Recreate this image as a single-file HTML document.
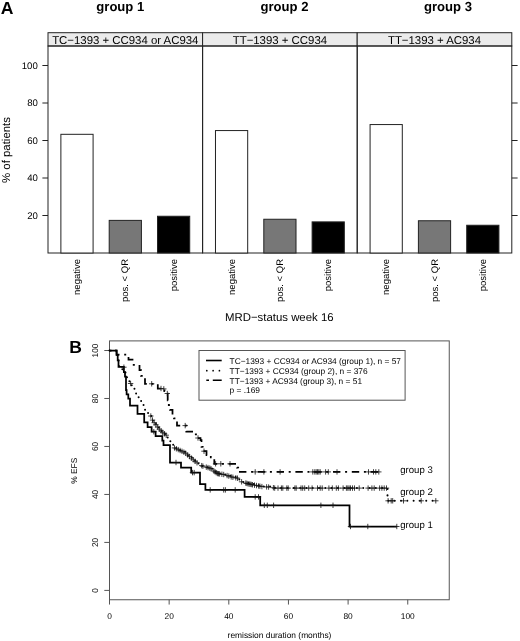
<!DOCTYPE html>
<html lang="en"><head><meta charset="utf-8"><title>Figure</title>
<style>html,body{margin:0;padding:0;background:#fff}body{width:520px;height:641px;overflow:hidden}svg{display:block}</style>
</head><body>
<svg width="520" height="641" viewBox="0 0 520 641" font-family='"Liberation Sans", sans-serif' text-rendering="geometricPrecision">
<rect width="520" height="641" fill="#fff"/>
<text x="0.8" y="14" font-size="17.6" font-weight="bold" fill="#000">A</text>
<text x="120.3" y="11.2" font-size="13.1" font-weight="bold" text-anchor="middle" fill="#000">group 1</text>
<text x="284.5" y="11.2" font-size="13.1" font-weight="bold" text-anchor="middle" fill="#000">group 2</text>
<text x="448" y="11.2" font-size="13.1" font-weight="bold" text-anchor="middle" fill="#000">group 3</text>
<rect x="48.00" y="32.7" width="154.60" height="13.30" fill="#ebebeb" stroke="#222" stroke-width="1"/>
<rect x="48.00" y="46.0" width="154.60" height="207.00" fill="none" stroke="#222" stroke-width="1"/>
<text x="125.30" y="44" font-size="11.4" text-anchor="middle" fill="#000">TC−1393 + CC934 or AC934</text>
<rect x="60.88" y="134.31" width="32.21" height="118.69" fill="#fff" stroke="#222" stroke-width="1"/>
<text transform="translate(79.99,259) rotate(-90)" font-size="9.5" text-anchor="end" fill="#000">negative</text>
<rect x="109.20" y="220.38" width="32.21" height="32.62" fill="#777" stroke="#222" stroke-width="1"/>
<text transform="translate(128.30,259) rotate(-90)" font-size="9.5" text-anchor="end" fill="#000">pos. &lt; QR</text>
<rect x="157.51" y="216.25" width="32.21" height="36.75" fill="#000" stroke="#222" stroke-width="1"/>
<text transform="translate(176.61,259) rotate(-90)" font-size="9.5" text-anchor="end" fill="#000">positive</text>
<rect x="202.60" y="32.7" width="154.60" height="13.30" fill="#ebebeb" stroke="#222" stroke-width="1"/>
<rect x="202.60" y="46.0" width="154.60" height="207.00" fill="none" stroke="#222" stroke-width="1"/>
<text x="279.90" y="44" font-size="11.4" text-anchor="middle" fill="#000">TT−1393 + CC934</text>
<rect x="215.48" y="130.56" width="32.21" height="122.44" fill="#fff" stroke="#222" stroke-width="1"/>
<text transform="translate(234.59,259) rotate(-90)" font-size="9.5" text-anchor="end" fill="#000">negative</text>
<rect x="263.80" y="219.25" width="32.21" height="33.75" fill="#777" stroke="#222" stroke-width="1"/>
<text transform="translate(282.90,259) rotate(-90)" font-size="9.5" text-anchor="end" fill="#000">pos. &lt; QR</text>
<rect x="312.11" y="221.88" width="32.21" height="31.12" fill="#000" stroke="#222" stroke-width="1"/>
<text transform="translate(331.21,259) rotate(-90)" font-size="9.5" text-anchor="end" fill="#000">positive</text>
<rect x="357.20" y="32.7" width="154.60" height="13.30" fill="#ebebeb" stroke="#222" stroke-width="1"/>
<rect x="357.20" y="46.0" width="154.60" height="207.00" fill="none" stroke="#222" stroke-width="1"/>
<text x="434.50" y="44" font-size="11.4" text-anchor="middle" fill="#000">TT−1393 + AC934</text>
<rect x="370.08" y="124.56" width="32.21" height="128.44" fill="#fff" stroke="#222" stroke-width="1"/>
<text transform="translate(389.19,259) rotate(-90)" font-size="9.5" text-anchor="end" fill="#000">negative</text>
<rect x="418.40" y="220.75" width="32.21" height="32.25" fill="#777" stroke="#222" stroke-width="1"/>
<text transform="translate(437.50,259) rotate(-90)" font-size="9.5" text-anchor="end" fill="#000">pos. &lt; QR</text>
<rect x="466.71" y="225.25" width="32.21" height="27.75" fill="#000" stroke="#222" stroke-width="1"/>
<text transform="translate(485.81,259) rotate(-90)" font-size="9.5" text-anchor="end" fill="#000">positive</text>
<path d="M42.4,215.50H48.0M511.8,215.50H517.6" stroke="#222" stroke-width="1" fill="none"/>
<text x="37.8" y="218.90" font-size="9.6" text-anchor="end" fill="#000">20</text>
<path d="M42.4,178.00H48.0M511.8,178.00H517.6" stroke="#222" stroke-width="1" fill="none"/>
<text x="37.8" y="181.40" font-size="9.6" text-anchor="end" fill="#000">40</text>
<path d="M42.4,140.50H48.0M511.8,140.50H517.6" stroke="#222" stroke-width="1" fill="none"/>
<text x="37.8" y="143.90" font-size="9.6" text-anchor="end" fill="#000">60</text>
<path d="M42.4,103.00H48.0M511.8,103.00H517.6" stroke="#222" stroke-width="1" fill="none"/>
<text x="37.8" y="106.40" font-size="9.6" text-anchor="end" fill="#000">80</text>
<path d="M42.4,65.50H48.0M511.8,65.50H517.6" stroke="#222" stroke-width="1" fill="none"/>
<text x="37.8" y="68.90" font-size="9.6" text-anchor="end" fill="#000">100</text>
<text transform="translate(10,150) rotate(-90)" font-size="11.4" text-anchor="middle" fill="#000">% of patients</text>
<text x="279.3" y="320.7" font-size="11.4" text-anchor="middle" fill="#000">MRD−status week 16</text>
<text x="69.3" y="353" font-size="17.5" font-weight="bold" fill="#000">B</text>
<rect x="109.5" y="340.9" width="339.75" height="258.85" fill="none" stroke="#555" stroke-width="1"/>
<path d="M109.50,599.75V604.55" stroke="#555" stroke-width="1" fill="none"/>
<text x="109.50" y="618.6" font-size="8.4" text-anchor="middle" fill="#000">0</text>
<path d="M169.15,599.75V604.55" stroke="#555" stroke-width="1" fill="none"/>
<text x="169.15" y="618.6" font-size="8.4" text-anchor="middle" fill="#000">20</text>
<path d="M228.80,599.75V604.55" stroke="#555" stroke-width="1" fill="none"/>
<text x="228.80" y="618.6" font-size="8.4" text-anchor="middle" fill="#000">40</text>
<path d="M288.45,599.75V604.55" stroke="#555" stroke-width="1" fill="none"/>
<text x="288.45" y="618.6" font-size="8.4" text-anchor="middle" fill="#000">60</text>
<path d="M348.10,599.75V604.55" stroke="#555" stroke-width="1" fill="none"/>
<text x="348.10" y="618.6" font-size="8.4" text-anchor="middle" fill="#000">80</text>
<path d="M407.75,599.75V604.55" stroke="#555" stroke-width="1" fill="none"/>
<text x="407.75" y="618.6" font-size="8.4" text-anchor="middle" fill="#000">100</text>
<path d="M104.3,590.40H109.5" stroke="#555" stroke-width="1" fill="none"/>
<text transform="translate(97.5,590.40) rotate(-90)" font-size="8.4" text-anchor="middle" fill="#000">0</text>
<path d="M104.3,542.42H109.5" stroke="#555" stroke-width="1" fill="none"/>
<text transform="translate(97.5,542.42) rotate(-90)" font-size="8.4" text-anchor="middle" fill="#000">20</text>
<path d="M104.3,494.44H109.5" stroke="#555" stroke-width="1" fill="none"/>
<text transform="translate(97.5,494.44) rotate(-90)" font-size="8.4" text-anchor="middle" fill="#000">40</text>
<path d="M104.3,446.46H109.5" stroke="#555" stroke-width="1" fill="none"/>
<text transform="translate(97.5,446.46) rotate(-90)" font-size="8.4" text-anchor="middle" fill="#000">60</text>
<path d="M104.3,398.48H109.5" stroke="#555" stroke-width="1" fill="none"/>
<text transform="translate(97.5,398.48) rotate(-90)" font-size="8.4" text-anchor="middle" fill="#000">80</text>
<path d="M104.3,350.50H109.5" stroke="#555" stroke-width="1" fill="none"/>
<text transform="translate(97.5,350.50) rotate(-90)" font-size="8.4" text-anchor="middle" fill="#000">100</text>
<text transform="translate(77,470.8) rotate(-90)" font-size="8.4" text-anchor="middle" fill="#000">% EFS</text>
<text x="279.5" y="638" font-size="8.4" text-anchor="middle" fill="#000">remission duration (months)</text>
<path d="M109.5,350.6 L116.6,350.6 H117.60 V355.60 H118.30 V360.40 H119.20 V366.60 H120.40 V367.95 H121.60 V369.30 H122.80 V370.65 H124.00 V372.00 H125.50 V375.00 H127.00 V378.00 H128.20 V379.83 H129.40 V381.67 H130.60 V383.50 H131.73 V385.25 H132.87 V387.00 H134.00 V388.75 H135.40 V393.40 H136.60 V395.30 H137.80 V397.20 H139.00 V399.10 H140.20 V401.00 H141.40 V402.95 H142.60 V404.90 H143.55 V407.30 H144.50 V409.70 H145.95 V411.35 H147.40 V413.00 H149.10 V414.50 H150.80 V416.00 H151.85 V418.50 H152.90 V421.00 H154.08 V422.50 H155.27 V424.00 H156.45 V425.50 H157.63 V427.00 H158.82 V428.50 H160.00 V430.00 H161.55 V431.30 H163.10 V432.60 H164.65 V433.90 H166.20 V435.20 H167.70 V438.20 H169.20 V441.20 H170.52 V442.88 H171.85 V444.55 H173.18 V446.22 H174.50 V447.90 H177.12 V449.10 H179.75 V450.30 H182.38 V451.50 H185.00 V452.70 H186.44 V453.93 H187.88 V455.15 H189.31 V456.38 H190.75 V457.60 H192.19 V458.82 H193.62 V460.05 H195.06 V461.27 H196.50 V462.50 H198.43 V463.67 H200.37 V464.83 H202.30 V466.00 H206.35 V467.15 H210.40 V468.30 H212.12 V469.60 H213.85 V470.90 H215.58 V472.20 H217.30 V473.50 H224.20 V474.60 H227.70 V475.75 H231.20 V476.90 H238.00 V478.30 H239.23 V479.50 H240.47 V480.70 H241.70 V481.90 H245.10 V482.90 H248.50 V483.90 H255.20 V485.30 H262.00 V486.60 H272.70 V487.30 H274.00 V488.10 L387.5,488.1 L387.5,500.8 L437.5,500.8" fill="none" stroke="#000" stroke-width="2" stroke-dasharray="0.01 6.3" stroke-linecap="round"/>
<path d="M109.5,350.6 H116.6 V354.7 H128.5 V359.6 H132.5 V364.9 H139.5 V370 H141 V375.8 H143.5 V379.1 H145 V383.8 H157.8 V388.5 H164.5 V391.2 H166.8 V393.5 H167.7 V400.4 H168.8 V405 H170 V409.8 H172.5 V414.8 H174 V418.3 H176.3 V421.2 H177 V425.6 H186.3 V431.6 H193 V434.4 H196 V438 H200.5 V440 H201.5 V446.9 H202.7 V451.2 H206.5 V455 H210.8 V457.3 H213.6 V459 H214.3 V463.8 H237 V467.7 H238.2 V471.9" fill="none" stroke="#000" stroke-width="1.75" stroke-dasharray="2 4.7 7.4 4.7"/>
<path d="M238.2,471.9 H379.6" fill="none" stroke="#000" stroke-width="1.75" stroke-dasharray="7.4 4.7 2 4.7" stroke-dashoffset="-0.8"/>
<path d="M109.5,350.6 H116.6 V354.8 H117.7 V360.4 H118.5 V366.8 H123.9 V372 H125 V376.7 H126 V390 H126.6 V394.3 H128.3 V398.6 H130 V405.6 H137.5 V413.8 H144.2 V422.4 H147.6 V427 H151.6 V431.7 H155.6 V436 H162.3 V440.7 H163.5 V445.1 H170 V462.5 H181 V467.5 H191.2 V472.6 H200 V484 H205.4 V489.9 H244.6 V496.9 H260.2 V505.3 H349.5 V526.5 H396.8" fill="none" stroke="#000" stroke-width="1.75" stroke-linejoin="miter"/>
<path d="M121.20,367.20h5.4M123.90,364.50v5.4M151.10,431.70h5.4M153.80,429.00v5.4M173.30,462.50h5.4M176.00,459.80v5.4M189.80,472.60h5.4M192.50,469.90v5.4M191.50,472.60h5.4M194.20,469.90v5.4M207.50,489.90h5.4M210.20,487.20v5.4M221.00,489.90h5.4M223.70,487.20v5.4M222.70,489.90h5.4M225.40,487.20v5.4M232.50,489.90h5.4M235.20,487.20v5.4M252.50,496.90h5.4M255.20,494.20v5.4M255.80,496.90h5.4M258.50,494.20v5.4M261.60,505.30h5.4M264.30,502.60v5.4M264.60,505.30h5.4M267.30,502.60v5.4M270.90,505.30h5.4M273.60,502.60v5.4M318.20,505.30h5.4M320.90,502.60v5.4M330.30,505.30h5.4M333.00,502.60v5.4M347.80,526.50h5.4M350.50,523.80v5.4M365.10,526.50h5.4M367.80,523.80v5.4M394.10,526.50h5.4M396.80,523.80v5.4M149.00,383.80h5.4M151.70,381.10v5.4M158.30,388.50h5.4M161.00,385.80v5.4M161.10,388.90h5.4M163.80,386.20v5.4M164.60,393.50h5.4M167.30,390.80v5.4M182.50,425.60h5.4M185.20,422.90v5.4M195.30,438.00h5.4M198.00,435.30v5.4M201.30,451.20h5.4M204.00,448.50v5.4M212.90,463.80h5.4M215.60,461.10v5.4M218.10,463.80h5.4M220.80,461.10v5.4M227.30,463.80h5.4M230.00,461.10v5.4M252.50,471.90h5.4M255.20,469.20v5.4M261.20,471.90h5.4M263.90,469.20v5.4M277.40,471.90h5.4M280.10,469.20v5.4M310.10,471.90h5.4M312.80,469.20v5.4M312.10,471.90h5.4M314.80,469.20v5.4M313.50,471.90h5.4M316.20,469.20v5.4M314.80,471.90h5.4M317.50,469.20v5.4M316.10,471.90h5.4M318.80,469.20v5.4M317.50,471.90h5.4M320.20,469.20v5.4M322.90,471.90h5.4M325.60,469.20v5.4M325.60,471.90h5.4M328.30,469.20v5.4M334.30,471.90h5.4M337.00,469.20v5.4M365.80,471.90h5.4M368.50,469.20v5.4M370.80,471.90h5.4M373.50,469.20v5.4M373.10,471.90h5.4M375.80,469.20v5.4M376.10,471.90h5.4M378.80,469.20v5.4M127.90,383.50h5.4M130.60,380.80v5.4M148.10,416.00h5.4M150.80,413.30v5.4M149.81,420.07h5.4M152.51,417.37v5.4M151.52,422.68h5.4M154.22,419.98v5.4M153.23,424.85h5.4M155.93,422.15v5.4M154.94,427.01h5.4M157.64,424.31v5.4M156.66,429.18h5.4M159.36,426.48v5.4M158.37,430.89h5.4M161.07,428.19v5.4M160.08,432.33h5.4M162.78,429.63v5.4M161.79,433.76h5.4M164.49,431.06v5.4M163.50,435.20h5.4M166.20,432.50v5.4M171.80,447.90h5.4M174.50,445.20v5.4M173.68,448.76h5.4M176.38,446.06v5.4M175.55,449.61h5.4M178.25,446.91v5.4M177.43,450.47h5.4M180.12,447.77v5.4M179.30,451.33h5.4M182.00,448.63v5.4M181.18,452.19h5.4M183.88,449.49v5.4M183.05,453.34h5.4M185.75,450.64v5.4M184.93,454.94h5.4M187.62,452.24v5.4M186.80,456.53h5.4M189.50,453.83v5.4M188.68,458.13h5.4M191.38,455.43v5.4M190.55,459.73h5.4M193.25,457.03v5.4M192.43,461.33h5.4M195.12,458.63v5.4M194.30,462.80h5.4M197.00,460.10v5.4M199.00,465.64h5.4M201.70,462.94v5.4M200.20,466.17h5.4M202.90,463.47v5.4M203.60,467.14h5.4M206.30,464.44v5.4M205.30,467.62h5.4M208.00,464.92v5.4M207.10,468.13h5.4M209.80,465.43v5.4M208.30,468.75h5.4M211.00,466.05v5.4M211.10,470.86h5.4M213.80,468.16v5.4M212.30,471.77h5.4M215.00,469.07v5.4M213.50,472.67h5.4M216.20,469.97v5.4M214.70,473.52h5.4M217.40,470.82v5.4M215.80,473.69h5.4M218.50,470.99v5.4M216.90,473.87h5.4M219.60,471.17v5.4M219.20,474.23h5.4M221.90,471.53v5.4M221.00,474.52h5.4M223.70,471.82v5.4M224.40,475.55h5.4M227.10,472.85v5.4M226.10,476.11h5.4M228.80,473.41v5.4M228.50,476.90h5.4M231.20,474.20v5.4M230.20,477.25h5.4M232.90,474.55v5.4M233.10,477.85h5.4M235.80,475.15v5.4M234.80,478.20h5.4M237.50,475.50v5.4M238.90,481.80h5.4M241.60,479.10v5.4M243.10,483.11h5.4M245.80,480.41v5.4M244.20,483.43h5.4M246.90,480.73v5.4M245.30,483.75h5.4M248.00,481.05v5.4M246.40,484.03h5.4M249.10,481.33v5.4M247.50,484.26h5.4M250.20,481.56v5.4M248.60,484.49h5.4M251.30,481.79v5.4M249.80,484.74h5.4M252.50,482.04v5.4M251.80,485.15h5.4M254.50,482.45v5.4M253.80,485.55h5.4M256.50,482.85v5.4M255.90,485.95h5.4M258.60,483.25v5.4M257.20,486.20h5.4M259.90,483.50v5.4M259.20,486.58h5.4M261.90,483.88v5.4M263.90,486.90h5.4M266.60,484.20v5.4M265.90,487.03h5.4M268.60,484.33v5.4M270.70,487.73h5.4M273.40,485.03v5.4M272.00,488.10h5.4M274.70,485.40v5.4M275.30,488.10h5.4M278.00,485.40v5.4M278.70,488.10h5.4M281.40,485.40v5.4M280.10,488.10h5.4M282.80,485.40v5.4M284.10,488.10h5.4M286.80,485.40v5.4M285.50,488.10h5.4M288.20,485.40v5.4M292.20,488.10h5.4M294.90,485.40v5.4M293.50,488.10h5.4M296.20,485.40v5.4M298.30,488.10h5.4M301.00,485.40v5.4M300.00,488.10h5.4M302.70,485.40v5.4M302.00,488.10h5.4M304.70,485.40v5.4M306.00,488.10h5.4M308.70,485.40v5.4M309.40,488.10h5.4M312.10,485.40v5.4M314.80,488.10h5.4M317.50,485.40v5.4M317.50,488.10h5.4M320.20,485.40v5.4M319.50,488.10h5.4M322.20,485.40v5.4M326.20,488.10h5.4M328.90,485.40v5.4M329.60,488.10h5.4M332.30,485.40v5.4M333.60,488.10h5.4M336.30,485.40v5.4M335.70,488.10h5.4M338.40,485.40v5.4M340.40,488.10h5.4M343.10,485.40v5.4M343.70,488.10h5.4M346.40,485.40v5.4M345.10,488.10h5.4M347.80,485.40v5.4M346.40,488.10h5.4M349.10,485.40v5.4M347.80,488.10h5.4M350.50,485.40v5.4M349.80,488.10h5.4M352.50,485.40v5.4M351.80,488.10h5.4M354.50,485.40v5.4M356.50,488.10h5.4M359.20,485.40v5.4M365.40,488.10h5.4M368.10,485.40v5.4M369.20,488.10h5.4M371.90,485.40v5.4M371.50,488.10h5.4M374.20,485.40v5.4M376.90,488.10h5.4M379.60,485.40v5.4M379.20,488.10h5.4M381.90,485.40v5.4M381.50,488.10h5.4M384.20,485.40v5.4M383.80,488.10h5.4M386.50,485.40v5.4M385.40,500.80h5.4M388.10,498.10v5.4M388.50,500.80h5.4M391.20,498.10v5.4M390.00,500.80h5.4M392.70,498.10v5.4M400.80,500.80h5.4M403.50,498.10v5.4M418.50,500.80h5.4M421.20,498.10v5.4M433.10,500.80h5.4M435.80,498.10v5.4" fill="none" stroke="#111" stroke-width="0.8"/>
<rect x="199" y="350.5" width="206.1" height="49.7" fill="#fff" stroke="#555" stroke-width="1"/>
<path d="M206,360.5H221.7" stroke="#000" stroke-width="1.6" fill="none"/>
<path d="M206.8,370.7H222" stroke="#000" stroke-width="1.7" stroke-dasharray="0.01 6.3" stroke-linecap="round" fill="none"/>
<path d="M206.3,380.3H221.7" stroke="#000" stroke-width="1.6" stroke-dasharray="2.7 3.8 8.9 9" fill="none"/>
<text x="229.6" y="363.60" font-size="8.35" fill="#000">TC−1393 + CC934 or AC934 (group 1), n = 57</text>
<text x="229.6" y="373.55" font-size="8.35" fill="#000">TT−1393 + CC934 (group 2), n = 376</text>
<text x="229.6" y="383.50" font-size="8.35" fill="#000">TT−1393 + AC934 (group 3), n = 51</text>
<text x="229.6" y="393.45" font-size="8.35" fill="#000">p = .169</text>
<text x="400.2" y="473.2" font-size="9.6" fill="#000">group 3</text>
<text x="400.2" y="494.7" font-size="9.6" fill="#000">group 2</text>
<text x="400.2" y="528.1" font-size="9.6" fill="#000">group 1</text>
</svg>
</body></html>
